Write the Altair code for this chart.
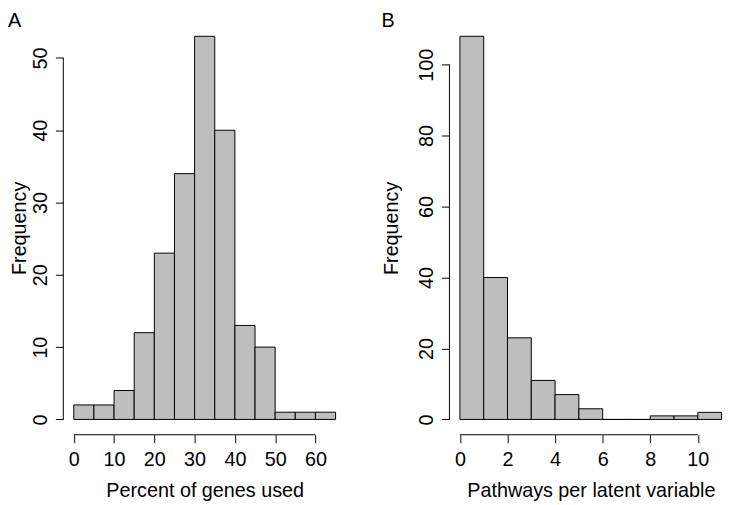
import altair as alt
import pandas as pd

# ---- data ----
a_bin_start = [0, 5, 10, 15, 20, 25, 30, 35, 40, 45, 50, 55, 60]
a_counts = [2, 2, 4, 12, 23, 34, 53, 40, 13, 10, 1, 1, 1]
a_bin_width = 5
a_xticks = [0, 10, 20, 30, 40, 50, 60]
a_yticks = [0, 10, 20, 30, 40, 50]

b_bin_start = [0, 1, 2, 3, 4, 5, 6, 7, 8, 9, 10]
b_counts = [108, 40, 23, 11, 7, 3, 0, 0, 1, 1, 2]
b_bin_width = 1
b_xticks = [0, 2, 4, 6, 8, 10]
b_yticks = [0, 20, 40, 60, 80, 100]

FONT = "Liberation Sans"
FS = 20


def panel(starts, counts, bw, xticks, yticks, xdom, ydom, w, h,
          xtitle, label, label_dx, ytitle_pad):
    df = pd.DataFrame({
        "start": starts,
        "end": [s + bw for s in starts],
        "count": counts,
        "zero": [0] * len(starts),
    })
    xs = alt.Scale(domain=xdom, nice=False, zero=False)
    ys = alt.Scale(domain=ydom, nice=False, zero=False)
    xaxis = alt.Axis(values=xticks, title=xtitle, domain=False, grid=False,
                     tickSize=8, tickColor="black", tickWidth=1,
                     labelFont=FONT, labelFontSize=FS, labelColor="black",
                     labelPadding=7, labelFlush=False, labelOverlap=False,
                     titleFont=FONT, titleFontSize=FS, titleFontWeight="normal",
                     titleColor="black", titlePadding=11.5, titleX=143.15)
    yaxis = alt.Axis(values=yticks, title="Frequency", domain=False, grid=False,
                     tickSize=8, tickColor="black", tickWidth=1,
                     labelFont=FONT, labelFontSize=FS, labelColor="black",
                     labelAngle=270, labelAlign="center", labelBaseline="bottom",
                     labelPadding=5.5, labelOverlap=False,
                     titleFont=FONT, titleFontSize=FS, titleFontWeight="normal",
                     titleColor="black", titlePadding=ytitle_pad)

    bars = alt.Chart(df).mark_rect(fill="#BEBEBE", stroke="black", strokeWidth=1).encode(
        x=alt.X("start:Q", scale=xs, axis=xaxis),
        x2="end:Q",
        y=alt.Y("count:Q", scale=ys, axis=yaxis),
        y2="zero:Q",
    )
    xl = pd.DataFrame({"a": [xticks[0]], "b": [xticks[-1]]})
    xline = alt.Chart(xl).mark_rule(color="black", strokeWidth=1).encode(
        x=alt.X("a:Q", scale=xs, axis=xaxis), x2="b:Q", y=alt.value(h))
    yl = pd.DataFrame({"a": [yticks[0]], "b": [yticks[-1]]})
    yline = alt.Chart(yl).mark_rule(color="black", strokeWidth=1).encode(
        y=alt.Y("a:Q", scale=ys, axis=yaxis), y2="b:Q", x=alt.value(0))
    lab = alt.Chart(pd.DataFrame({"t": [label]})).mark_text(
        align="left", baseline="top", fontSize=FS, font=FONT, color="black"
    ).encode(text="t:N", x=alt.value(label_dx), y=alt.value(-9.5))
    return alt.layer(bars, xline, yline, lab).properties(width=w, height=h)


pa = panel(a_bin_start, a_counts, a_bin_width, a_xticks, a_yticks,
           [-2.6, 67.6], [-2.12, 55.12], 286.3, 419,
           "Percent of genes used", "A", -56, 0.5)
pb = panel(b_bin_start, b_counts, b_bin_width, b_xticks, b_yticks,
           [-0.44, 11.0], [-4.32, 112.32], 275.6, 419,
           "Pathways per latent variable", "B", -68.7, 15.4)

chart = alt.hconcat(pa, pb, spacing=104, bounds="flush").properties(
    padding=0
).configure_view(stroke=None)

chart.save("out.html", embed_options={"renderer": "svg", "actions": False})
